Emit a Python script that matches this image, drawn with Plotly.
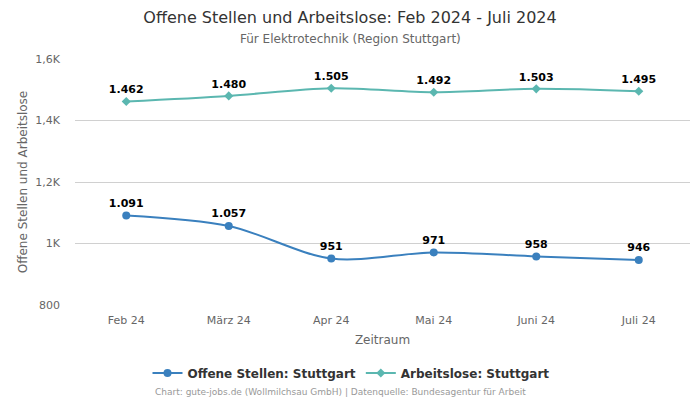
import plotly.graph_objects as go

categories = ["Feb 24", "März 24", "Apr 24", "Mai 24", "Juni 24", "Juli 24"]
offene_stellen = [1091, 1057, 951, 971, 958, 946]
arbeitslose = [1462, 1480, 1505, 1492, 1503, 1495]
y_tickvals = [800, 1000, 1200, 1400, 1600]
y_ticktext = ["800", "1K", "1,2K", "1,4K", "1,6K"]

def de_fmt(v):
    return f"{v:,}".replace(",", ".")

FONT = "DejaVu Sans"
BLUE = "#3a80be"
TEAL = "#5bb7b0"
W, H = 692, 392  # page body has an 8px margin

fig = go.Figure()
fig.add_trace(go.Scatter(
    x=categories, y=offene_stellen, name="Offene Stellen: Stuttgart",
    mode="lines+markers+text", line=dict(color=BLUE, width=2, shape="spline", smoothing=0.9),
    marker=dict(symbol="circle", size=8, color=BLUE),
    text=[de_fmt(v) for v in offene_stellen], textposition="top center",
    textfont=dict(family=FONT, size=11, color="#000000", weight="bold"),
    cliponaxis=False,
))
fig.add_trace(go.Scatter(
    x=categories, y=arbeitslose, name="Arbeitslose: Stuttgart",
    mode="lines+markers+text", line=dict(color=TEAL, width=2, shape="spline", smoothing=0.9),
    marker=dict(symbol="diamond", size=7, color=TEAL),
    text=[de_fmt(v) for v in arbeitslose], textposition="top center",
    textfont=dict(family=FONT, size=11, color="#000000", weight="bold"),
    cliponaxis=False,
))

fig.update_layout(
    width=W, height=H,
    margin=dict(l=67, r=10, t=51, b=95),
    paper_bgcolor="white", plot_bgcolor="white",
    font=dict(family=FONT, color="#666666"),
    title=dict(text="Offene Stellen und Arbeitslose: Feb 2024 - Juli 2024",
               font=dict(family=FONT, size=16, color="#333333"),
               x=342 / W, xref="container", xanchor="center",
               y=1 - 9 / H, yref="container", yanchor="middle"),
    showlegend=True,
    legend=dict(orientation="h", xref="container", x=343 / W, xanchor="center",
                yref="container", y=1 - 365 / H, yanchor="middle",
                font=dict(family=FONT, size=12, color="#333333", weight="bold"),
                itemwidth=30, traceorder="normal"),
    xaxis=dict(type="category", range=[-0.5, 5.5], showgrid=False, zeroline=False,
               showline=False, ticks="", tickfont=dict(size=11, color="#666666"),
               ticklabelstandoff=7,
               title=dict(text="Zeitraum", font=dict(size=12, color="#666666"), standoff=9)),
    yaxis=dict(range=[800, 1600], tickvals=y_tickvals, ticktext=y_ticktext,
               showgrid=True, gridcolor="#d0d0d0", gridwidth=1, zeroline=False,
               showline=False, ticks="", tickfont=dict(size=11, color="#666666"),
               ticklabelstandoff=14,
               title=dict(text="Offene Stellen und Arbeitslose", font=dict(size=12, color="#666666"),
                          standoff=5)),
    annotations=[
        dict(text="Für Elektrotechnik (Region Stuttgart)", xref="paper", yref="paper",
             x=(342 - 67) / 615, y=1, yanchor="middle", xanchor="center", yshift=20,
             showarrow=False, font=dict(family=FONT, size=12, color="#666666")),
        dict(text="Chart: gute-jobs.de (Wollmilchsau GmbH) | Datenquelle: Bundesagentur für Arbeit",
             xref="paper", yref="paper", x=(332 - 67) / 615, y=0, yshift=-87,
             xanchor="center", yanchor="middle", showarrow=False,
             font=dict(family=FONT, size=9, color="#999999")),
    ],
)

fig.write_html("out.html")
